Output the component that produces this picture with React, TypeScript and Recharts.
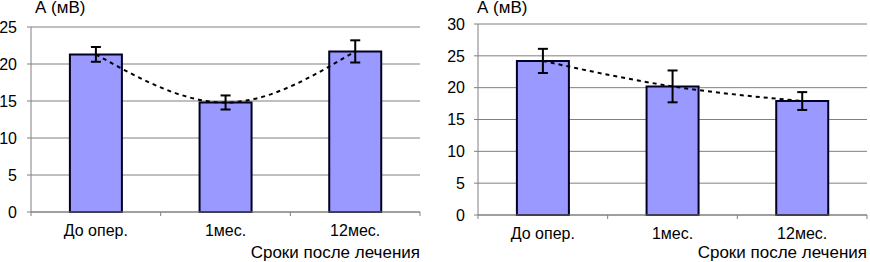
import React from 'react';
import { ComposedChart, Bar, Line, XAxis, YAxis, CartesianGrid, ErrorBar } from 'recharts';

const categories = ['До опер.', '1мес.', '12мес.'];
const leftMeans = [21.3, 14.8, 21.7];
const leftErr = [1.0, 0.95, 1.5];
const rightMeans = [24.2, 20.2, 17.9];
const rightErr = [1.9, 2.5, 1.4];
const leftTicks = [0, 5, 10, 15, 20, 25];
const rightTicks = [0, 5, 10, 15, 20, 25, 30];
const yTitle = 'А (мВ)';
const xTitle = 'Сроки после лечения';

const FONT = '"Liberation Sans", Arial, sans-serif';
const GRID = '#808080';
const BAR_FILL = '#9999FF';
const BAR_STROKE = '#000022';

const leftData = categories.map((c, i) => ({ cat: c, v: leftMeans[i], e: leftErr[i] }));
const rightData = categories.map((c, i) => ({ cat: c, v: rightMeans[i], e: rightErr[i] }));

function makeTick(catW: number, n: number) {
  return (props: any) => {
    const { x, y, payload, index } = props;
    return (
      <g>
        <line x1={x - catW / 2} y1={y} x2={x - catW / 2} y2={y + 4} stroke={GRID} strokeWidth={1} />
        {index === n - 1 && (
          <line x1={x + catW / 2} y1={y} x2={x + catW / 2} y2={y + 4} stroke={GRID} strokeWidth={1} />
        )}
        <text x={x} y={y + 24} textAnchor="middle" fontSize={16} fontFamily={FONT} fill="#000">
          {payload.value}
        </text>
      </g>
    );
  };
}

type PanelProps = {
  data: any[];
  ticks: number[];
  max: number;
  margin: { top: number; right: number; bottom: number; left: number };
  yWidth: number;
  xHeight: number;
  tickMargin: number;
};

function Panel({ data, ticks, max, margin, yWidth, xHeight, tickMargin }: PanelProps) {
  const plotW = 435 - margin.left - margin.right - yWidth;
  const catW = plotW / data.length;
  return (
    <ComposedChart width={435} height={262} data={data} margin={margin} barCategoryGap="30%">
      <CartesianGrid vertical={false} stroke={GRID} strokeWidth={1} />
      <XAxis
        dataKey="cat"
        height={xHeight}
        axisLine={{ stroke: GRID, strokeWidth: 1 }}
        tickLine={false}
        tickSize={0}
        tickMargin={0}
        interval={0}
        tick={makeTick(catW, data.length)}
      />
      <YAxis
        width={yWidth}
        domain={[0, max]}
        ticks={ticks}
        interval={0}
        axisLine={{ stroke: GRID, strokeWidth: 1 }}
        tickLine={{ stroke: GRID, strokeWidth: 1 }}
        tickSize={4}
        tickMargin={tickMargin}
        tick={{ fontSize: 16, fontFamily: FONT, fill: '#000' }}
      />
      <Bar dataKey="v" fill={BAR_FILL} stroke={BAR_STROKE} strokeWidth={2} isAnimationActive={false}>
        <ErrorBar dataKey="e" width={5} stroke="#000" strokeWidth={2} direction="y" />
      </Bar>
      <Line
        dataKey="v"
        type="monotone"
        stroke="#000"
        strokeWidth={2}
        strokeDasharray="4 4"
        dot={false}
        activeDot={false}
        isAnimationActive={false}
      />
    </ComposedChart>
  );
}

export default function App() {
  return (
    <div style={{ position: 'absolute', left: 0, top: 0, width: 870, height: 262, background: '#fff' }}>
      <div style={{ position: 'absolute', left: 0, top: 0 }}>
        <Panel
          data={leftData}
          ticks={leftTicks}
          max={25}
          margin={{ top: 27, right: 15, bottom: 0, left: 0 }}
          yWidth={31}
          xHeight={50}
          tickMargin={10}
        />
      </div>
      <div style={{ position: 'absolute', left: 435, top: 0 }}>
        <Panel
          data={rightData}
          ticks={rightTicks}
          max={30}
          margin={{ top: 24, right: 3, bottom: 0, left: 0 }}
          yWidth={43}
          xHeight={47}
          tickMargin={9}
        />
      </div>
      <svg
        width={870}
        height={262}
        style={{ position: 'absolute', left: 0, top: 0, pointerEvents: 'none' }}
      >
        <text x={35} y={13} fontSize={17} fontFamily={FONT} fill="#000">{yTitle}</text>
        <text x={420} y={258} textAnchor="end" fontSize={17} fontFamily={FONT} fill="#000">{xTitle}</text>
        <text x={477} y={13} fontSize={17} fontFamily={FONT} fill="#000">{yTitle}</text>
        <text x={867} y={258} textAnchor="end" fontSize={17} fontFamily={FONT} fill="#000">{xTitle}</text>
      </svg>
    </div>
  );
}
